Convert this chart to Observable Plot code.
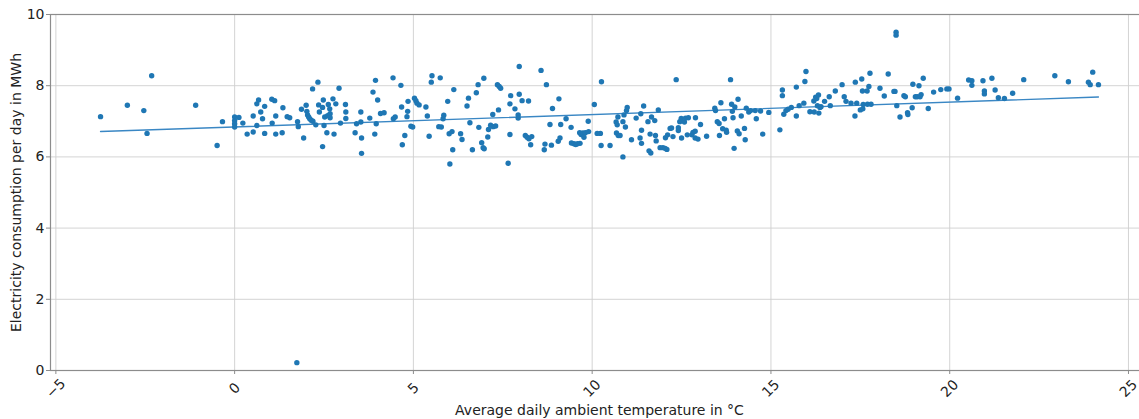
<!DOCTYPE html>
<html>
<head>
<meta charset="utf-8">
<script src="https://cdn.jsdelivr.net/npm/d3@7"></script>
<script src="https://cdn.jsdelivr.net/npm/@observablehq/plot@0.6"></script>
<style>
  html, body { margin: 0; padding: 0; background: #fff; overflow: hidden; }
  #chart svg { max-width: none !important; }
</style>
</head>
<body>
<div id="chart"></div>
<script>
// Average daily ambient temperature (°C)
const temperature = [
  -3.75, -3.0, -2.54, -2.45, -2.32, -1.09, -0.49, -0.34,
  0.0, 0.0, 0.0, 0.0, 0.12, 0.23, 0.35, 0.52, 0.52, 0.62, 0.62, 0.67, 0.73, 0.78, 0.84, 0.84,
  1.04, 1.12, 1.15, 1.05, 1.15, 1.33, 1.35, 1.47, 1.54, 1.76, 1.78, 1.87, 1.93, 1.74,
  2.0, 2.02, 2.04, 2.07, 2.10, 2.14, 2.18, 2.19, 2.27, 2.33, 2.35, 2.37, 2.46, 2.46, 2.48, 2.50,
  2.52, 2.58, 2.60, 2.62, 2.66, 2.67, 2.67, 2.75, 2.78, 2.83, 2.92, 2.96,
  3.10, 3.11, 3.11, 3.37, 3.41, 3.53, 3.53, 3.55, 3.55, 3.78,
  3.87, 3.92, 3.94, 3.96, 4.00, 4.08, 4.18, 4.43, 4.44, 4.49, 4.65, 4.67, 4.69, 4.76, 4.82, 4.84, 4.85,
  4.93, 4.98, 5.03, 5.07, 5.10, 5.16, 5.35, 5.39, 5.44, 5.50, 5.52, 5.71, 5.75, 5.78, 5.83, 5.85, 5.96,
  6.00, 6.02, 6.08, 6.10, 6.13, 6.32, 6.36, 6.50, 6.54, 6.58, 6.65, 6.76, 6.81, 6.83, 6.91, 6.95, 6.97, 6.98,
  7.08, 7.10, 7.16, 7.22, 7.23, 7.30, 7.35, 7.38, 7.40, 7.44, 7.65, 7.70, 7.70, 7.72,
  7.84, 7.93, 7.93, 7.96, 7.96, 8.04, 8.13, 8.18, 8.22, 8.23, 8.28, 8.31, 8.57, 8.66, 8.68, 8.72, 8.82, 8.86, 8.89,
  9.05, 9.07, 9.10, 9.12, 9.27, 9.41, 9.42, 9.49, 9.54, 9.59, 9.65, 9.66, 9.69, 9.74, 9.77, 9.81, 9.89, 9.90,
  10.06, 10.14, 10.23, 10.25, 10.26, 10.50, 10.67, 10.68, 10.70, 10.72, 10.73, 10.78, 10.86, 10.86, 10.89, 10.93, 10.96, 10.98,
  11.10, 11.23, 11.34, 11.36, 11.38, 11.38, 11.44, 11.56, 11.59, 11.62,
  11.64, 11.66, 11.75, 11.77, 11.79, 11.85, 11.90, 11.98, 12.04, 12.09, 12.05, 12.11, 12.18, 12.22, 12.26,
  12.35, 12.41, 12.41, 12.45, 12.49, 12.50, 12.58, 12.61, 12.66, 12.69, 12.79, 12.82, 12.88, 12.89, 12.88, 12.96,
  13.03, 13.20, 13.43, 13.45, 13.50, 13.55, 13.56, 13.60, 13.65, 13.70, 13.75, 13.76, 13.87, 13.90, 13.92, 13.94, 13.97, 13.99,
  14.06, 14.08, 14.11, 14.17, 14.26, 14.28, 14.31, 14.38, 14.43, 14.56, 14.59, 14.71, 14.77, 14.94,
  15.25, 15.32, 15.32, 15.36, 15.42, 15.48, 15.57, 15.71, 15.71, 15.79, 15.92, 15.95, 15.98,
  16.09, 16.20, 16.21, 16.25, 16.28, 16.30, 16.33, 16.34, 16.37, 16.40, 16.50, 16.63, 16.66, 16.80, 16.99,
  17.05, 17.10, 17.24, 17.35, 17.36, 17.40, 17.50, 17.54, 17.56, 17.58, 17.57, 17.70, 17.69, 17.74, 17.77, 17.80,
  18.05, 18.17, 18.28, 18.44, 18.47, 18.52, 18.61, 18.72, 18.76, 18.82, 18.83, 18.95, 18.97, 18.50, 18.50,
  19.04, 19.09, 19.14, 19.17, 19.20, 19.26, 19.40, 19.55, 19.75, 19.92, 19.98,
  20.22, 20.53, 20.62, 20.62, 20.93, 20.97, 20.97, 21.18, 21.27, 21.36, 21.53, 21.76,
  22.07, 22.94, 23.32, 23.88, 23.93, 24.00, 24.16
];
// Electricity consumption per day (MWh)
const consumption = [
  7.13, 7.45, 7.30, 6.66, 8.28, 7.45, 6.32, 6.99,
  7.12, 7.02, 6.93, 6.84, 7.11, 6.95, 6.64, 7.15, 6.70, 7.49, 6.88, 7.60, 7.26, 7.07, 7.42, 6.66,
  7.62, 7.58, 7.15, 6.95, 6.64, 6.68, 7.38, 7.13, 7.10, 6.99, 6.85, 7.34, 6.53, 0.22,
  7.45, 7.28, 7.18, 7.12, 7.07, 7.03, 7.91, 7.00, 6.90, 8.10, 7.46, 7.26, 7.39, 6.29, 7.60, 6.88,
  7.12, 6.68, 7.16, 7.47, 7.35, 7.21, 7.10, 7.63, 6.64, 7.49, 7.93, 6.95,
  7.47, 7.26, 7.08, 6.68, 6.93, 7.26, 6.98, 6.53, 6.10, 7.09,
  7.82, 6.64, 8.15, 6.93, 7.60, 7.22, 7.24, 8.22, 7.07, 7.12, 8.01, 7.40, 6.34, 6.60, 7.13, 7.28, 7.56,
  6.86, 6.84, 7.65, 7.58, 7.51, 7.46, 7.40, 7.15, 6.58, 8.10, 8.28, 6.85, 8.22, 6.84, 7.07, 7.17, 7.56,
  6.65, 5.80, 6.71, 6.20, 7.89, 6.65, 6.49, 7.43, 7.65, 6.96, 6.20, 7.80, 8.03, 6.83, 6.40, 6.26, 8.21, 6.23,
  6.56, 6.77, 6.89, 7.19, 6.85, 6.87, 8.03, 7.32, 7.98, 7.93, 5.82, 6.63, 7.49, 7.72,
  7.35, 7.18, 7.09, 7.76, 8.54, 7.58, 6.60, 6.55, 7.57, 6.51, 6.34, 6.57, 8.43, 6.20, 6.36, 8.03, 6.91, 6.33, 7.36,
  6.44, 7.63, 6.53, 6.91, 7.07, 6.83, 6.39, 6.37, 6.35, 6.37, 6.68, 6.38, 6.63, 6.67, 6.55, 6.68, 7.00, 6.71,
  7.47, 6.66, 6.66, 6.32, 8.11, 6.32, 6.98, 6.67, 6.90, 7.12, 6.60, 6.60, 6.99, 6.00, 7.18, 6.84, 7.30, 7.39,
  6.48, 7.09, 6.53, 7.21, 6.75, 6.38, 7.43, 6.99, 6.17, 6.64,
  6.11, 7.12, 7.02, 6.60, 6.45, 7.32, 6.26, 6.26, 6.24, 6.21, 6.54, 6.62, 6.80, 6.81, 6.57,
  8.17, 6.82, 6.74, 6.99, 7.08, 6.53, 6.98, 7.09, 6.62, 7.10, 6.62, 6.69, 6.72, 7.10, 6.53, 6.50,
  6.91, 6.58, 7.37, 7.30, 6.99, 6.94, 6.60, 7.52, 6.79, 7.07, 6.75, 6.69, 8.17, 7.48, 7.28, 7.10, 6.24, 7.40,
  6.73, 7.62, 6.65, 7.15, 6.80, 6.48, 7.37, 7.26, 7.30, 7.30, 7.07, 7.29, 6.64, 7.25,
  6.76, 7.88, 7.72, 7.20, 7.30, 7.34, 7.39, 7.15, 7.96, 7.44, 7.51, 8.12, 8.40,
  7.27, 7.57, 7.26, 7.68, 7.64, 7.44, 7.74, 7.23, 7.39, 7.41, 7.56, 7.69, 7.44, 7.85, 8.03,
  7.69, 7.56, 7.51, 7.15, 8.10, 7.51, 7.32, 8.19, 7.85, 7.47, 7.35, 7.48, 7.85, 7.98, 8.35, 7.48,
  7.93, 7.71, 8.33, 7.84, 7.84, 7.44, 7.12, 7.72, 7.69, 7.24, 7.19, 7.38, 8.04, 9.50, 9.42,
  7.69, 7.69, 8.00, 7.69, 7.75, 8.21, 7.36, 7.82, 7.89, 7.91, 7.91,
  7.65, 8.16, 8.14, 8.01, 8.14, 7.85, 7.77, 8.21, 7.88, 7.66, 7.64, 7.79,
  8.17, 8.28, 8.11, 8.10, 8.03, 8.38, 8.03
];
const xTicks = [-5, 0, 5, 10, 15, 20, 25];
const yTicks = [0, 2, 4, 6, 8, 10];
const xLabel = "Average daily ambient temperature in °C";
const yLabel = "Electricity consumption per day in MWh";

const data = temperature.map((t, i) => ({t, e: consumption[i]}));
const fmt = d => (d < 0 ? "\u2212" + Math.abs(d) : String(d));

const chart = Plot.plot({
  width: 1148,
  height: 419,
  marginLeft: 50,
  marginRight: 0,
  marginTop: 14,
  marginBottom: 49,
  style: {fontFamily: "'DejaVu Sans', sans-serif", fontSize: "14px", background: "#fff", color: "#222", maxWidth: "none"},
  x: {domain: [-5.15, 25.56]},
  y: {domain: [0, 10]},
  marks: [
    Plot.gridX(xTicks, {stroke: "#cfcfcf", strokeOpacity: 1, strokeWidth: 0.9}),
    Plot.gridY(yTicks, {stroke: "#cfcfcf", strokeOpacity: 1, strokeWidth: 0.9}),
    Plot.frame({stroke: "#8c8c8c", strokeWidth: 1.2}),
    Plot.linearRegressionY(data, {x: "t", y: "e", ci: 0, stroke: "#3a87c4", strokeWidth: 1.4}),
    Plot.dot(data, {x: "t", y: "e", r: 2.7, fill: "#1f77b4", stroke: "none"}),
    Plot.axisY({ticks: yTicks, tickSize: 4, tickPadding: 2, fontSize: 14, stroke: "#8c8c8c", fill: "#222",
      label: yLabel, labelAnchor: "center", labelArrow: "none", labelOffset: 39}),
    Plot.axisX({ticks: xTicks, tickSize: 4, tickFormat: () => "", stroke: "#8c8c8c", fill: "#222", fontSize: 14,
      label: xLabel, labelAnchor: "center", labelArrow: "none", labelOffset: 44}),
    Plot.text(xTicks, {x: d => d, y: () => 0, dy: 18, rotate: -45, text: fmt, textAnchor: "middle",
      lineAnchor: "middle", fontSize: 14, fill: "#222"})
  ]
});
document.getElementById("chart").appendChild(chart);
</script>
</body>
</html>
